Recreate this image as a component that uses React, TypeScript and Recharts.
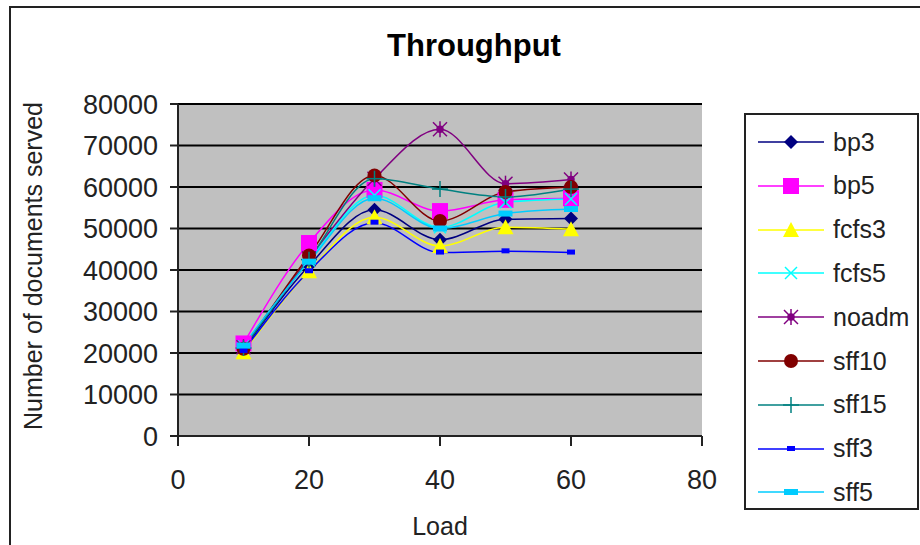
import React from 'react'
import { LineChart, Line, XAxis, YAxis, CartesianGrid } from 'recharts'

const loads = [10, 20, 30, 40, 50, 60]

const bp3 = [20800, 41000, 54500, 47300, 52200, 52400]
const bp5 = [22300, 46500, 59300, 54200, 56900, 57300]
const fcfs3 = [20200, 39700, 52700, 45800, 50300, 49800]
const fcfs5 = [21600, 42300, 58000, 50300, 56300, 57100]
const noadm = [21400, 42800, 62000, 73900, 60800, 61800]
const sff10 = [21000, 43500, 62800, 51800, 58800, 60000]
const sff15 = [21200, 42500, 62000, 59500, 57600, 59500]
const sff3 = [20500, 39700, 51400, 44200, 44500, 44200]
const sff5 = [21800, 42000, 57300, 50000, 53600, 54700]

const xTicks = [0, 20, 40, 60, 80]
const yTicks = [0, 10000, 20000, 30000, 40000, 50000, 60000, 70000, 80000]

const series = [
  { key: 'bp3', values: bp3, color: '#000080', shape: 'diamond' },
  { key: 'bp5', values: bp5, color: '#FF00FF', shape: 'square' },
  { key: 'fcfs3', values: fcfs3, color: '#FFFF00', shape: 'triangle' },
  { key: 'fcfs5', values: fcfs5, color: '#00FFFF', shape: 'x' },
  { key: 'noadm', values: noadm, color: '#800080', shape: 'star' },
  { key: 'sff10', values: sff10, color: '#800000', shape: 'circle' },
  { key: 'sff15', values: sff15, color: '#008080', shape: 'plus' },
  { key: 'sff3', values: sff3, color: '#0000FF', shape: 'smallbar' },
  { key: 'sff5', values: sff5, color: '#00CCFF', shape: 'bar' },
]

const data = loads.map((load, i) => {
  const row: Record<string, number> = { load }
  series.forEach((s) => {
    row[s.key] = s.values[i]
  })
  return row
})

const FONT = '"Liberation Sans", Arial, sans-serif'

function Marker({ cx, cy, shape, color }: { cx: number; cy: number; shape: string; color: string }) {
  if (cx == null || cy == null) return null
  switch (shape) {
    case 'diamond':
      return <polygon points={`${cx},${cy - 7} ${cx + 7},${cy} ${cx},${cy + 7} ${cx - 7},${cy}`} fill={color} />
    case 'square':
      return <rect x={cx - 8} y={cy - 8} width={16} height={16} fill={color} />
    case 'triangle':
      return <polygon points={`${cx},${cy - 8} ${cx + 8},${cy + 7} ${cx - 8},${cy + 7}`} fill={color} />
    case 'x':
      return (
        <g stroke={color} strokeWidth={1.5}>
          <line x1={cx - 6} y1={cy - 6} x2={cx + 6} y2={cy + 6} />
          <line x1={cx - 6} y1={cy + 6} x2={cx + 6} y2={cy - 6} />
        </g>
      )
    case 'star':
      return (
        <g stroke={color} strokeWidth={1.5}>
          <line x1={cx - 7} y1={cy - 7} x2={cx + 7} y2={cy + 7} />
          <line x1={cx - 7} y1={cy + 7} x2={cx + 7} y2={cy - 7} />
          <line x1={cx} y1={cy - 8} x2={cx} y2={cy + 8} />
          <circle cx={cx} cy={cy} r={3} fill={color} />
        </g>
      )
    case 'circle':
      return <circle cx={cx} cy={cy} r={7} fill={color} />
    case 'plus':
      return (
        <g stroke={color} strokeWidth={1.5}>
          <line x1={cx - 8} y1={cy} x2={cx + 8} y2={cy} />
          <line x1={cx} y1={cy - 8} x2={cx} y2={cy + 8} />
        </g>
      )
    case 'smallbar':
      return <rect x={cx - 4} y={cy - 3} width={8} height={5} fill={color} />
    case 'bar':
      return <rect x={cx - 7} y={cy - 3} width={14} height={6} fill={color} />
    default:
      return null
  }
}

function LegendBox() {
  return (
    <div
      style={{
        position: 'absolute',
        left: 744,
        top: 113,
        width: 171,
        height: 393,
        border: '2px solid #222',
        background: '#fff',
      }}
    >
      {series.map((s, i) => (
        <div
          key={s.key}
          style={{ position: 'absolute', left: 10, top: 12 + i * 43.8, height: 30, display: 'flex', alignItems: 'center' }}
        >
          <svg width={70} height={30}>
            <line x1={2} y1={15} x2={68} y2={15} stroke={s.color} strokeWidth={1.5} />
            <Marker cx={35} cy={15} shape={s.shape} color={s.color} />
          </svg>
          <span style={{ fontFamily: FONT, fontSize: 25, color: '#222', marginLeft: 7 }}>{s.key}</span>
        </div>
      ))}
    </div>
  )
}

export default function App() {
  return (
    <div
      style={{
        position: 'absolute',
        left: 0,
        top: 0,
        width: 920,
        height: 545,
        background: '#fff',
        overflow: 'hidden',
        fontFamily: FONT,
      }}
    >
      <div style={{ position: 'absolute', left: 9, top: 6, width: 1000, height: 1000, border: '2px solid #222' }} />
      <LineChart
        width={920}
        height={545}
        data={data}
        margin={{ top: 104, right: 218, bottom: 0, left: 78 }}
        style={{ position: 'absolute', left: 0, top: 0 }}
      >
        <CartesianGrid vertical={false} fill="#C0C0C0" stroke="#000" strokeWidth={2} />
        <XAxis
          dataKey="load"
          type="number"
          domain={[0, 80]}
          ticks={xTicks}
          height={109}
          tickSize={10}
          tickMargin={24}
          stroke="#222"
          strokeWidth={2}
          tick={{ fill: '#222', fontSize: 27, fontFamily: FONT }}
        />
        <YAxis
          domain={[0, 80000]}
          ticks={yTicks}
          width={100}
          tickSize={8}
          tickMargin={12}
          stroke="#222"
          strokeWidth={2}
          tick={{ fill: '#222', fontSize: 27, fontFamily: FONT }}
        />
        {series.map((s) => (
          <Line
            key={s.key}
            dataKey={s.key}
            type="monotone"
            stroke={s.color}
            strokeWidth={1.5}
            isAnimationActive={false}
            dot={(p: any) => <Marker key={`${s.key}-${p.index}`} cx={p.cx} cy={p.cy} shape={s.shape} color={s.color} />}
            activeDot={false}
          />
        ))}
      </LineChart>
      <div
        style={{
          position: 'absolute',
          left: 474,
          top: 28,
          transform: 'translateX(-50%)',
          fontSize: 31,
          fontWeight: 'bold',
          color: '#000',
          whiteSpace: 'nowrap',
        }}
      >
        Throughput
      </div>
      <div
        style={{
          position: 'absolute',
          left: 33,
          top: 266,
          transform: 'translate(-50%, -50%) rotate(-90deg)',
          fontSize: 25,
          color: '#222',
          whiteSpace: 'nowrap',
        }}
      >
        Number of documents served
      </div>
      <div
        style={{
          position: 'absolute',
          left: 440,
          top: 512,
          transform: 'translateX(-50%)',
          fontSize: 25,
          color: '#222',
          whiteSpace: 'nowrap',
        }}
      >
        Load
      </div>
      <LegendBox />
    </div>
  )
}
